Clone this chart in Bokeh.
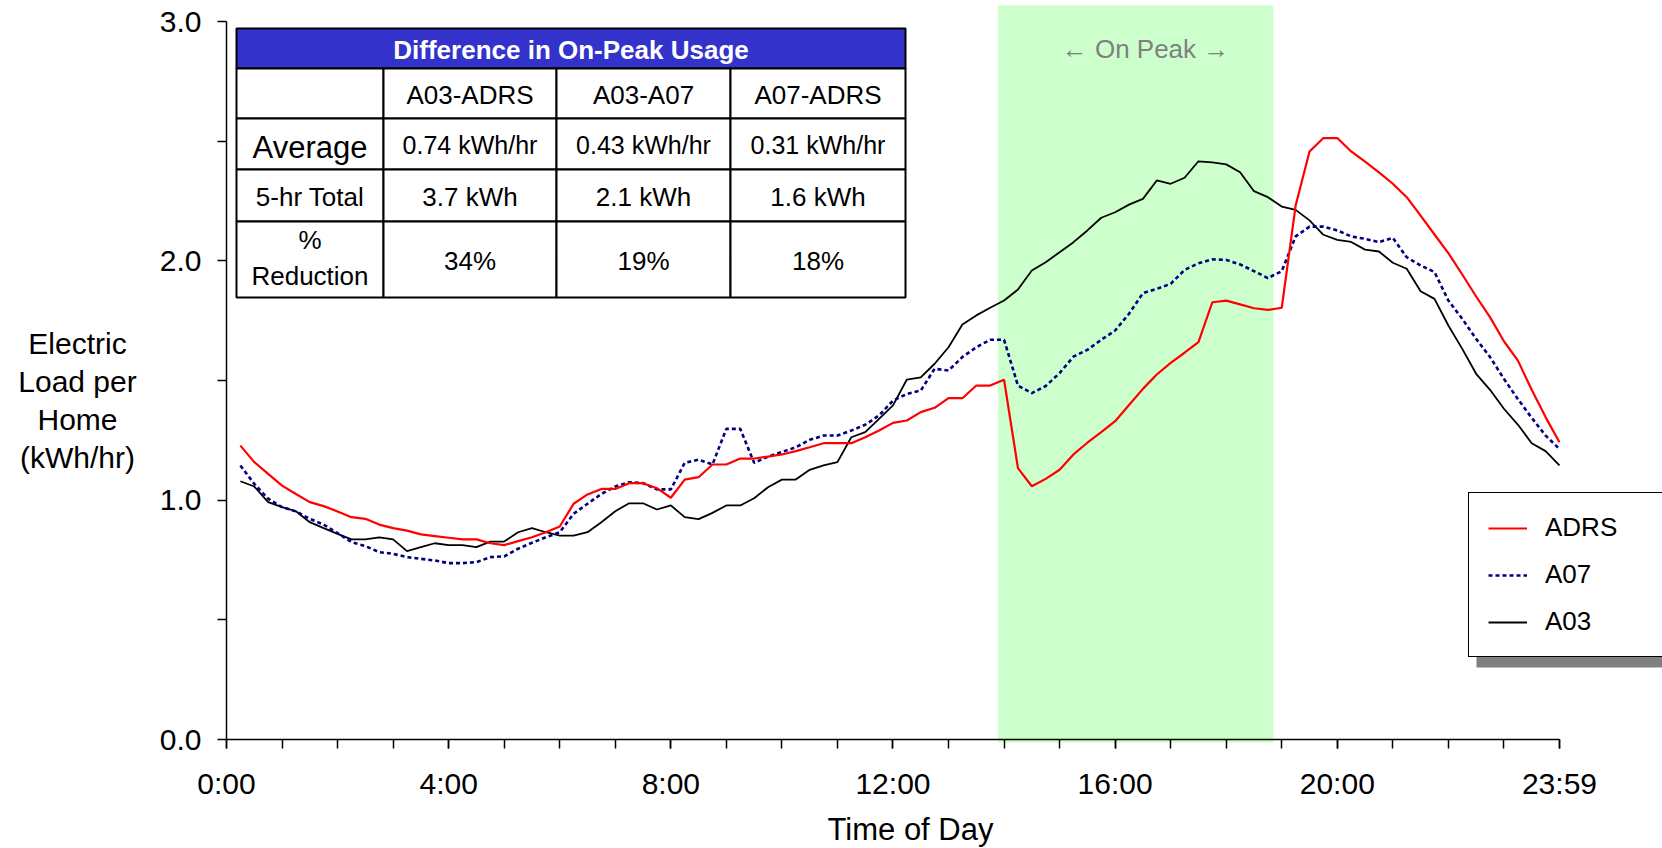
from bokeh.plotting import figure
from bokeh.models import Range1d, FixedTicker, Label, Legend, LegendItem, ColumnDataSource
from bokeh.embed import file_html
from bokeh.resources import INLINE
from bokeh.core.properties import value

# ---------------- data ----------------
minutes = list(range(15, 1441, 15))  # 15-minute intervals, 0:15 .. 24:00

adrs = [1.228, 1.159, 1.110, 1.061, 1.026, 0.992, 0.975, 0.953, 0.929, 0.922,
        0.898, 0.883, 0.873, 0.857, 0.850, 0.843, 0.836, 0.836, 0.820, 0.812,
        0.829, 0.845, 0.866, 0.890, 0.985, 1.024, 1.047, 1.047, 1.071, 1.071,
        1.050, 1.010, 1.086, 1.096, 1.149, 1.149, 1.174, 1.174, 1.182, 1.191,
        1.205, 1.221, 1.238, 1.238, 1.238, 1.263, 1.291, 1.323, 1.333, 1.368,
        1.386, 1.426, 1.426, 1.479, 1.479, 1.503, 1.134, 1.058, 1.089, 1.127,
        1.191, 1.240, 1.284, 1.330, 1.398, 1.465, 1.525, 1.574, 1.616, 1.660,
        1.827, 1.834, 1.818, 1.802, 1.795, 1.804, 2.231, 2.457, 2.513, 2.513,
        2.457, 2.415, 2.370, 2.322, 2.266, 2.189, 2.110, 2.032, 1.943, 1.851,
        1.765, 1.664, 1.584, 1.461, 1.347, 1.242]

a07 = [1.145, 1.068, 1.006, 0.971, 0.953, 0.922, 0.898, 0.862, 0.825, 0.808,
       0.783, 0.776, 0.762, 0.755, 0.748, 0.737, 0.737, 0.741, 0.762, 0.765,
       0.797, 0.822, 0.845, 0.866, 0.943, 0.985, 1.026, 1.057, 1.075, 1.071,
       1.045, 1.045, 1.156, 1.169, 1.149, 1.298, 1.298, 1.156, 1.182, 1.201,
       1.221, 1.252, 1.270, 1.270, 1.291, 1.315, 1.354, 1.416, 1.444, 1.458,
       1.549, 1.542, 1.598, 1.639, 1.670, 1.670, 1.479, 1.447, 1.477, 1.531,
       1.600, 1.628, 1.670, 1.709, 1.779, 1.865, 1.883, 1.904, 1.962, 1.990,
       2.006, 2.004, 1.985, 1.957, 1.928, 1.957, 2.102, 2.143, 2.143, 2.127,
       2.102, 2.092, 2.078, 2.096, 2.015, 1.981, 1.953, 1.834, 1.758, 1.674,
       1.598, 1.507, 1.423, 1.344, 1.270, 1.214]

a03 = [1.079, 1.057, 0.992, 0.971, 0.954, 0.908, 0.883, 0.859, 0.836, 0.836,
       0.845, 0.836, 0.787, 0.804, 0.820, 0.812, 0.812, 0.804, 0.827, 0.827,
       0.866, 0.883, 0.866, 0.852, 0.852, 0.866, 0.908, 0.954, 0.987, 0.987,
       0.961, 0.978, 0.929, 0.921, 0.947, 0.978, 0.978, 1.008, 1.054, 1.086,
       1.086, 1.127, 1.145, 1.159, 1.263, 1.284, 1.340, 1.396, 1.504, 1.513,
       1.570, 1.639, 1.734, 1.772, 1.804, 1.834, 1.880, 1.960, 1.994, 2.036,
       2.078, 2.127, 2.180, 2.203, 2.235, 2.259, 2.336, 2.322, 2.347, 2.416,
       2.411, 2.403, 2.370, 2.291, 2.266, 2.227, 2.213, 2.169, 2.109, 2.088,
       2.079, 2.047, 2.039, 1.992, 1.967, 1.873, 1.841, 1.730, 1.632, 1.528,
       1.461, 1.382, 1.316, 1.238, 1.205, 1.145]

peak_window = [13.89, 18.85]  # hours, shaded on-peak band
peak_label = "\u2190 On Peak \u2192"

series_names = ["ADRS", "A07", "A03"]

table_title = "Difference in On-Peak Usage"
table_cols = ["A03-ADRS", "A03-A07", "A07-ADRS"]
row_labels = ["Average", "5-hr Total", "%\nReduction"]
avg_diff = ["0.74 kWh/hr", "0.43 kWh/hr", "0.31 kWh/hr"]
total_diff = ["3.7 kWh", "2.1 kWh", "1.6 kWh"]
pct_reduction = ["34%", "19%", "18%"]

x_tick_hours = [0, 4, 8, 12, 16, 20, 24]
x_tick_labels = ["0:00", "4:00", "8:00", "12:00", "16:00", "20:00", "23:59"]
x_minor_hours = list(range(0, 25))
y_ticks = [0, 1, 2, 3]
y_tick_labels = ["0.0", "1.0", "2.0", "3.0"]
y_minor = [0.5, 1.5, 2.5]

x_title = "Time of Day"
y_title = "Electric\nLoad per\nHome\n(kWh/hr)"

# ---------------- layout ----------------
W, H = 1662, 848
X0_PX, Y0_PX = 226, 739       # page pixel of (0 h, 0 kWh)
PX_PER_H = 55.54
PX_PER_KW = 239.33
FONT = "Liberation Sans"


def dx(px):  # page pixel x -> data hours
    return (px - X0_PX) / PX_PER_H


def dy(py):  # page pixel y -> data kWh
    return (Y0_PX - py) / PX_PER_KW


hours = [m / 60 for m in minutes]

p = figure(width=W, height=H, x_range=Range1d(dx(0), dx(W)), y_range=Range1d(dy(H), dy(0)),
           output_backend="svg", toolbar_location=None,
           min_border_left=0, min_border_right=0, min_border_top=0, min_border_bottom=0)
p.outline_line_color = None
p.grid.visible = False
p.background_fill_color = "white"
p.border_fill_color = "white"

# axes (drawn at the data origin inside the frame)
for ax in (p.xaxis, p.yaxis):
    ax.fixed_location = 0
    ax.axis_line_width = 1.5
    ax.axis_line_color = "black"
    ax.major_tick_line_width = 1.5
    ax.minor_tick_line_width = 1.5
    ax.major_tick_line_color = "black"
    ax.minor_tick_line_color = "black"
    ax.major_tick_out = 9
    ax.major_tick_in = 0
    ax.minor_tick_out = 9
    ax.minor_tick_in = 0
    ax.major_label_text_font = FONT
    ax.major_label_text_font_size = "30px"
    ax.major_label_text_color = "black"

p.xaxis.ticker = FixedTicker(ticks=x_tick_hours, minor_ticks=x_minor_hours)
p.xaxis.major_label_overrides = dict(zip(x_tick_hours, x_tick_labels))
p.xaxis.bounds = (0, 24)
p.xaxis.major_label_standoff = 18

p.yaxis.ticker = FixedTicker(ticks=y_ticks, minor_ticks=y_minor)
p.yaxis.major_label_overrides = dict(zip(y_ticks, y_tick_labels))
p.yaxis.bounds = (0, 3)
p.yaxis.major_label_standoff = 16

# on-peak band
p.quad(left=[peak_window[0]], right=[peak_window[1]], bottom=[dy(742)], top=[dy(5)],
       fill_color="#CCFFCC", line_color=None, level="underlay")
p.add_layout(Label(x=dx(1145), y=dy(48), text=peak_label,
                   text_font=FONT, text_font_size="26px", text_color="#808080",
                   text_align="center", text_baseline="middle"))

# series
src = ColumnDataSource(dict(h=hours, adrs=adrs, a07=a07, a03=a03))
r_a03 = p.line("h", "a03", source=src, line_color="black", line_width=1.8)
r_a07 = p.line("h", "a07", source=src, line_color="#000080", line_width=2.6, line_dash="4 3")
r_adrs = p.line("h", "adrs", source=src, line_color="#FF0000", line_width=2.2)

# legend shadow + legend
p.quad(left=[dx(1476)], right=[dx(W + 40)], bottom=[dy(667)], top=[dy(600)],
       fill_color="#808080", line_color=None)
legend = Legend(items=[LegendItem(label=series_names[0], renderers=[r_adrs]),
                       LegendItem(label=series_names[1], renderers=[r_a07]),
                       LegendItem(label=series_names[2], renderers=[r_a03])],
                location=(1468, H - 657), margin=0,
                padding=19, spacing=16, glyph_width=39, glyph_height=30,
                label_height=30, label_width=120, label_standoff=18,
                label_text_font=FONT, label_text_font_size="26px", label_text_color="black",
                border_line_color="black", border_line_width=1.5, border_line_alpha=1.0,
                background_fill_color="white", background_fill_alpha=1.0)
p.add_layout(legend)

# table
col_px = [236, 383, 556, 730, 905]
row_px = [28, 68, 118, 169, 221, 297]
p.quad(left=[dx(col_px[0])], right=[dx(col_px[-1])], top=[dy(row_px[0])], bottom=[dy(row_px[1])],
       fill_color="#3333CC", line_color="black", line_width=2)
cl, cr, ct, cb = [], [], [], []
for r in range(1, 5):
    for c in range(4):
        cl.append(dx(col_px[c])); cr.append(dx(col_px[c + 1]))
        ct.append(dy(row_px[r])); cb.append(dy(row_px[r + 1]))
p.quad(left=cl, right=cr, top=ct, bottom=cb, fill_color="white", line_color="black", line_width=2)

p.text(x=[dx((col_px[0] + col_px[-1]) / 2)], y=[dy((row_px[0] + row_px[1]) / 2 + 1)], text=[table_title],
       text_font=value(FONT), text_font_size="26px", text_font_style="bold", text_color="white",
       text_align="center", text_baseline="middle")

ccx = [dx((col_px[c] + col_px[c + 1]) / 2) for c in range(1, 4)]
p.text(x=ccx, y=[dy(94)] * 3, text=table_cols, text_font=value(FONT), text_font_size="26px",
       text_color="black", text_align="center", text_baseline="middle")
p.text(x=ccx, y=[dy(144)] * 3, text=avg_diff, text_font=value(FONT), text_font_size="25px",
       text_color="black", text_align="center", text_baseline="middle")
p.text(x=ccx, y=[dy(196)] * 3, text=total_diff, text_font=value(FONT), text_font_size="26px",
       text_color="black", text_align="center", text_baseline="middle")
p.text(x=ccx, y=[dy(260)] * 3, text=pct_reduction, text_font=value(FONT), text_font_size="26px",
       text_color="black", text_align="center", text_baseline="middle")
c0 = dx((col_px[0] + col_px[1]) / 2)
p.text(x=[c0], y=[dy(147)], text=[row_labels[0]], text_font=value(FONT), text_font_size="31px",
       text_color="black", text_align="center", text_baseline="middle")
p.text(x=[c0], y=[dy(196)], text=[row_labels[1]], text_font=value(FONT), text_font_size="26px",
       text_color="black", text_align="center", text_baseline="middle")
p.text(x=[c0], y=[dy(257)], text=[row_labels[2]], text_font=value(FONT), text_font_size="26px",
       text_color="black", text_align="center", text_baseline="middle", text_line_height=1.2)

# axis titles
p.add_layout(Label(x=dx(77), y=dy(400), text=y_title, text_font=FONT, text_font_size="30px",
                   text_color="black", text_align="center", text_baseline="middle",
                   text_line_height=1.15))
p.add_layout(Label(x=dx(910), y=dy(829), text=x_title, text_font=FONT, text_font_size="31px",
                   text_color="black", text_align="center", text_baseline="middle"))

open("out.html", "w").write(file_html(p, INLINE))
